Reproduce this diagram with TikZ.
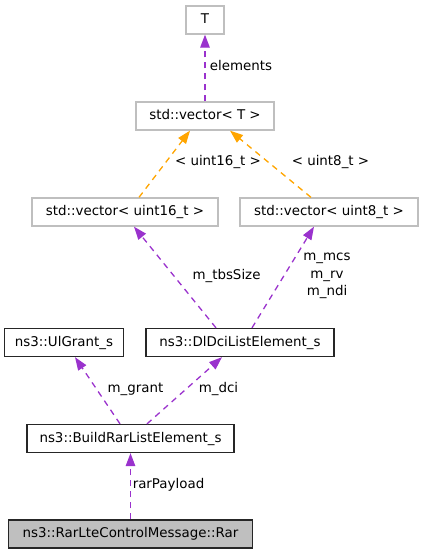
\documentclass[tikz,border=0pt]{standalone}
\usepackage{fontspec}
\setmainfont{DejaVu Sans}
\usetikzlibrary{arrows.meta,calc}
\definecolor{edgepurple}{HTML}{9A32CD}
\definecolor{edgeorange}{HTML}{FFA500}
\definecolor{graybord}{HTML}{BFBFBF}
\definecolor{rarfill}{HTML}{BFBFBF}
\begin{document}
\begin{tikzpicture}[x=1pt,y=-1pt,
  lbl/.style={font=\fontsize{13.4}{17.5}\selectfont, inner sep=0pt, align=center},
  box/.style={draw, line width=1.3pt, minimum height=28pt, inner sep=0pt,
    text height=10pt, text depth=3pt, font=\fontsize{13.4}{16}\selectfont},
  graybox/.style={box, draw=graybord},
  blackbox/.style={box, draw=black!85},
  pedge/.style={draw=edgepurple, line width=1.3pt, dash pattern=on 6pt off 5pt,
    -{Triangle[length=13pt,width=9.5pt,fill=edgepurple]}},
  oedge/.style={draw=edgeorange, line width=1.3pt, dash pattern=on 6pt off 5pt,
    -{Triangle[length=13pt,width=9.5pt,fill=edgeorange]}}
]
\useasboundingbox (0,0) rectangle (423,555);
\node[graybox, minimum width=38pt] (T) at (205,20) {T};
\node[graybox, minimum width=138pt] (vecT) at (205,116) {std::vector< T >};
\node[graybox, minimum width=186pt] (u16) at (125,212) {std::vector< uint16\_t >};
\node[graybox, minimum width=178pt] (u8) at (329,212) {std::vector< uint8\_t >};
\node[blackbox, minimum width=119pt] (ul) at (64,342.5) {ns3::UlGrant\_s};
\node[blackbox, minimum width=188pt] (dl) at (240,342.5) {ns3::DlDciListElement\_s};
\node[blackbox, minimum width=207pt] (build) at (130.5,438.5) {ns3::BuildRarListElement\_s};
\node[blackbox, minimum width=244pt, fill=rarfill] (rar) at (130.5,534) {ns3::RarLteControlMessage::Rar};

\draw[pedge] (vecT.north) -- (T.south);
\draw[oedge] ($(u16.north)+(14,0)$) -- ($(vecT.south)+(-15,0)$);
\draw[oedge] ($(u8.north)+(-18,0)$) -- ($(vecT.south)+(25,0)$);
\draw[pedge] ($(dl.north)+(-24,0)$) -- ($(u16.south)+(9,0)$);
\draw[pedge] ($(dl.north)+(12,0)$) -- ($(u8.south)+(-15,0)$);
\draw[pedge] ($(build.north)+(-10.5,0)$) -- ($(ul.south)+(11,0)$);
\draw[pedge] ($(build.north)+(16.5,0)$) -- ($(dl.south)+(-18,0)$);
\draw[pedge] (rar.north) -- (build.south);

\node[lbl] (l1) at (241,66) {elements};
\node[lbl] (l2) at (218,162) {< uint16\_t >};
\node[lbl] (l3) at (330.5,162) {< uint8\_t >};
\node[lbl] (l4) at (226.5,276) {m\_tbsSize};
\node[lbl] (l5) at (327,276) {m\_mcs\\m\_rv\\m\_ndi};
\node[lbl] (l6) at (135.5,389) {m\_grant};
\node[lbl] (l7) at (218.5,389) {m\_dci};
\node[lbl] (l8) at (168.5,485) {rarPayload};
\end{tikzpicture}
\end{document}
